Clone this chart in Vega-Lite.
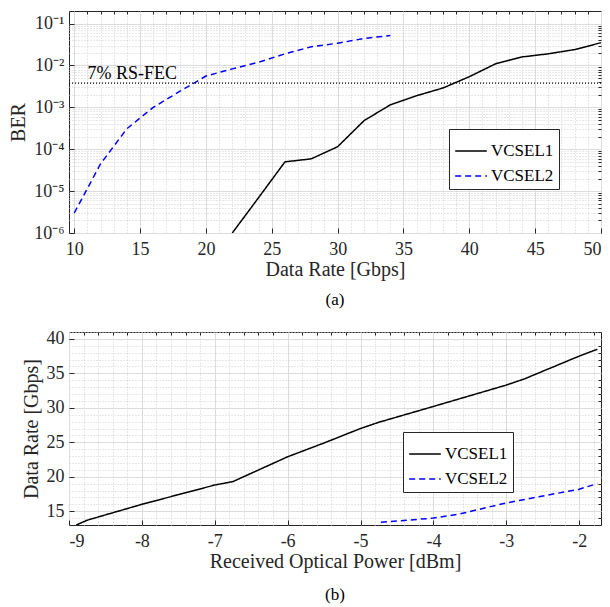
{
  "$schema": "https://vega.github.io/schema/vega-lite/v6.json",
  "background": "white",
  "padding": {"left": 8, "top": 10, "right": 10, "bottom": 0},
  "config": {
    "font": "Liberation Serif",
    "view": {"stroke": "#262626", "strokeWidth": 1},
    "concat": {"spacing": 20},
    "axis": {
      "labelFont": "Liberation Serif", "labelFontSize": 18, "labelColor": "#262626",
      "titleFont": "Liberation Serif", "titleFontSize": 20, "titleFontWeight": "normal", "titleColor": "#262626",
      "domain": false, "tickColor": "#262626", "gridColor": "#dcdcdc", "gridWidth": 1
    },
    "legend": {
      "labelFont": "Liberation Serif", "labelFontSize": 17, "labelColor": "#000000",
      "strokeColor": "#262626", "fillColor": "white", "padding": 5,
      "symbolType": "stroke", "symbolSize": 1000, "symbolStrokeWidth": 1.5, "rowPadding": -4, "labelOffset": 3
    },
    "title": {"font": "Liberation Serif", "fontSize": 17, "fontWeight": "normal", "color": "#000000"}
  },
  "resolve": {
    "scale": {"color": "independent", "strokeDash": "independent"},
    "legend": {"color": "independent", "strokeDash": "independent"}
  },
  "datasets": {
    "ber": [
      {"laser": "VCSEL1", "rate": 22, "ber": 0.000001},
      {"laser": "VCSEL1", "rate": 24, "ber": 0.000007},
      {"laser": "VCSEL1", "rate": 26, "ber": 0.00005},
      {"laser": "VCSEL1", "rate": 28, "ber": 0.000059},
      {"laser": "VCSEL1", "rate": 30, "ber": 0.000115},
      {"laser": "VCSEL1", "rate": 32, "ber": 0.00048},
      {"laser": "VCSEL1", "rate": 34, "ber": 0.00115},
      {"laser": "VCSEL1", "rate": 36, "ber": 0.0019},
      {"laser": "VCSEL1", "rate": 38, "ber": 0.0029},
      {"laser": "VCSEL1", "rate": 40, "ber": 0.0054},
      {"laser": "VCSEL1", "rate": 42, "ber": 0.011},
      {"laser": "VCSEL1", "rate": 44, "ber": 0.016},
      {"laser": "VCSEL1", "rate": 46, "ber": 0.019},
      {"laser": "VCSEL1", "rate": 48, "ber": 0.024},
      {"laser": "VCSEL1", "rate": 50, "ber": 0.035},
      {"laser": "VCSEL2", "rate": 10, "ber": 0.000003},
      {"laser": "VCSEL2", "rate": 12, "ber": 0.000045},
      {"laser": "VCSEL2", "rate": 14, "ber": 0.00031},
      {"laser": "VCSEL2", "rate": 16, "ber": 0.001},
      {"laser": "VCSEL2", "rate": 18, "ber": 0.0024},
      {"laser": "VCSEL2", "rate": 20, "ber": 0.0056},
      {"laser": "VCSEL2", "rate": 22, "ber": 0.0083},
      {"laser": "VCSEL2", "rate": 24, "ber": 0.012},
      {"laser": "VCSEL2", "rate": 26, "ber": 0.019},
      {"laser": "VCSEL2", "rate": 28, "ber": 0.028},
      {"laser": "VCSEL2", "rate": 30, "ber": 0.034},
      {"laser": "VCSEL2", "rate": 32, "ber": 0.044},
      {"laser": "VCSEL2", "rate": 34, "ber": 0.052}
    ],
    "power": [
      {"laser": "VCSEL1", "power": -8.9, "rate": 13.0},
      {"laser": "VCSEL1", "power": -8.75, "rate": 13.7},
      {"laser": "VCSEL1", "power": -8, "rate": 16.0},
      {"laser": "VCSEL1", "power": -7, "rate": 18.8},
      {"laser": "VCSEL1", "power": -6.75, "rate": 19.3},
      {"laser": "VCSEL1", "power": -6, "rate": 22.9},
      {"laser": "VCSEL1", "power": -5.5, "rate": 24.9},
      {"laser": "VCSEL1", "power": -5, "rate": 27.0},
      {"laser": "VCSEL1", "power": -4.75, "rate": 27.9},
      {"laser": "VCSEL1", "power": -4, "rate": 30.2},
      {"laser": "VCSEL1", "power": -3, "rate": 33.3},
      {"laser": "VCSEL1", "power": -2.75, "rate": 34.2},
      {"laser": "VCSEL1", "power": -2, "rate": 37.5},
      {"laser": "VCSEL1", "power": -1.75, "rate": 38.5},
      {"laser": "VCSEL2", "power": -4.72, "rate": 13.4},
      {"laser": "VCSEL2", "power": -4, "rate": 14.0},
      {"laser": "VCSEL2", "power": -3.64, "rate": 14.6},
      {"laser": "VCSEL2", "power": -3, "rate": 16.2},
      {"laser": "VCSEL2", "power": -2, "rate": 18.2},
      {"laser": "VCSEL2", "power": -1.75, "rate": 19.0}
    ],
    "fec": [{"threshold": 0.0038, "label": "7% RS-FEC"}]
  },
  "vconcat": [
    {
      "width": 532, "height": 222,
      "title": {"text": "(a)", "orient": "bottom", "offset": 13},
      "layer": [
        {
          "data": {"name": "ber"},
          "mark": {"type": "line", "strokeWidth": 1.5, "clip": true},
          "encoding": {
            "x": {"field": "rate", "type": "quantitative",
                  "scale": {"domain": [9.6, 50], "nice": false, "zero": false},
                  "axis": {"orient": "bottom", "title": "Data Rate [Gbps]", "values": [10, 15, 20, 25, 30, 35, 40, 45, 50],
                           "grid": true, "tickSize": -5, "labelPadding": 12, "titlePadding": 1}},
            "y": {"field": "ber", "type": "quantitative",
                  "scale": {"type": "log", "domain": [0.000001, 0.2], "nice": false},
                  "axis": {"orient": "left", "title": "BER", "values": [0.000001, 0.00001, 0.0001, 0.001, 0.01, 0.1],
                           "labelExpr": "'10' + ['⁻¹','⁻²','⁻³','⁻⁴','⁻⁵','⁻⁶'][-round(log(datum.value)/LN10)-1]",
                           "grid": true, "tickSize": -5, "labelPadding": 10, "titlePadding": 5}},
            "color": {"field": "laser", "type": "nominal",
                      "scale": {"domain": ["VCSEL1", "VCSEL2"], "range": ["#000000", "#0000ff"]},
                      "legend": {"title": null, "orient": "none", "legendX": 380, "legendY": 118}},
            "strokeDash": {"field": "laser", "type": "nominal",
                           "scale": {"domain": ["VCSEL1", "VCSEL2"], "range": [[1, 0], [6, 4]]},
                           "legend": {"title": null, "orient": "none", "legendX": 380, "legendY": 118}}
          }
        },
        {
          "data": {"name": "ber"},
          "mark": {"type": "line", "opacity": 0},
          "encoding": {
            "x": {"field": "rate", "type": "quantitative",
                  "axis": {"orient": "top", "title": null, "labels": false, "grid": true, "gridDash": [1, 2], "gridColor": "#d0d0d0",
                           "tickSize": -3,
                           "values": [11,12,13,14,16,17,18,19,21,22,23,24,26,27,28,29,31,32,33,34,36,37,38,39,41,42,43,44,46,47,48,49]}},
            "y": {"field": "ber", "type": "quantitative",
                  "axis": {"orient": "right", "title": null, "labels": false, "grid": true, "gridDash": [1, 2], "gridColor": "#d0d0d0",
                           "tickSize": -3,
                           "values": [0.000002,0.000003,0.000004,0.000005,0.000006,0.000007,0.000008,0.000009,
                                      0.00002,0.00003,0.00004,0.00005,0.00006,0.00007,0.00008,0.00009,
                                      0.0002,0.0003,0.0004,0.0005,0.0006,0.0007,0.0008,0.0009,
                                      0.002,0.003,0.004,0.005,0.006,0.007,0.008,0.009,
                                      0.02,0.03,0.04,0.05,0.06,0.07,0.08,0.09]}}
          }
        },
        {
          "data": {"name": "fec"},
          "mark": {"type": "rule", "color": "#000000", "strokeDash": [1, 2], "strokeWidth": 1.3},
          "encoding": {"y": {"field": "threshold", "type": "quantitative", "axis": null}}
        },
        {
          "data": {"name": "fec"},
          "mark": {"type": "text", "align": "left", "baseline": "alphabetic", "dy": -4, "fontSize": 18, "font": "Liberation Serif", "color": "#000000"},
          "encoding": {
            "x": {"datum": 11, "axis": null},
            "y": {"field": "threshold", "type": "quantitative", "axis": null},
            "text": {"field": "label"}
          }
        }
      ],
      "resolve": {"axis": {"x": "independent", "y": "independent"}}
    },
    {
      "width": 532, "height": 193,
      "title": {"text": "(b)", "orient": "bottom", "offset": 16},
      "layer": [
        {
          "data": {"name": "power"},
          "mark": {"type": "line", "strokeWidth": 1.5, "clip": true},
          "encoding": {
            "x": {"field": "power", "type": "quantitative",
                  "scale": {"domain": [-9, -1.7], "nice": false, "zero": false},
                  "axis": {"orient": "bottom", "title": "Received Optical Power [dBm]", "values": [-9, -8, -7, -6, -5, -4, -3, -2],
                           "labelExpr": "datum.value < 0 ? '-' + abs(datum.value) : '' + datum.value",
                           "grid": true, "tickSize": -5, "labelPadding": 12, "titlePadding": 1}},
            "y": {"field": "rate", "type": "quantitative",
                  "scale": {"domain": [13, 41], "nice": false, "zero": false},
                  "axis": {"orient": "left", "title": "Data Rate [Gbps]", "values": [15, 20, 25, 30, 35, 40],
                           "grid": true, "tickSize": -5, "labelPadding": 10, "titlePadding": 5}},
            "color": {"field": "laser", "type": "nominal",
                      "scale": {"domain": ["VCSEL1", "VCSEL2"], "range": ["#000000", "#0000ff"]},
                      "legend": {"title": null, "orient": "none", "legendX": 334, "legendY": 100}},
            "strokeDash": {"field": "laser", "type": "nominal",
                           "scale": {"domain": ["VCSEL1", "VCSEL2"], "range": [[1, 0], [6, 4]]},
                           "legend": {"title": null, "orient": "none", "legendX": 334, "legendY": 100}}
          }
        },
        {
          "data": {"name": "power"},
          "mark": {"type": "line", "opacity": 0},
          "encoding": {
            "x": {"field": "power", "type": "quantitative",
                  "axis": {"orient": "top", "title": null, "labels": false, "grid": true, "gridDash": [1, 2], "gridColor": "#d0d0d0",
                           "tickSize": -3,
                           "values": [-8.8,-8.6,-8.4,-8.2,-7.8,-7.6,-7.4,-7.2,-6.8,-6.6,-6.4,-6.2,-5.8,-5.6,-5.4,-5.2,-4.8,-4.6,-4.4,-4.2,-3.8,-3.6,-3.4,-3.2,-2.8,-2.6,-2.4,-2.2,-1.8]}},
            "y": {"field": "rate", "type": "quantitative",
                  "axis": {"orient": "right", "title": null, "labels": false, "grid": true, "gridDash": [1, 2], "gridColor": "#d0d0d0",
                           "tickSize": -3,
                           "values": [14,16,17,18,19,21,22,23,24,26,27,28,29,31,32,33,34,36,37,38,39,41]}}
          }
        }
      ],
      "resolve": {"axis": {"x": "independent", "y": "independent"}}
    }
  ]
}
